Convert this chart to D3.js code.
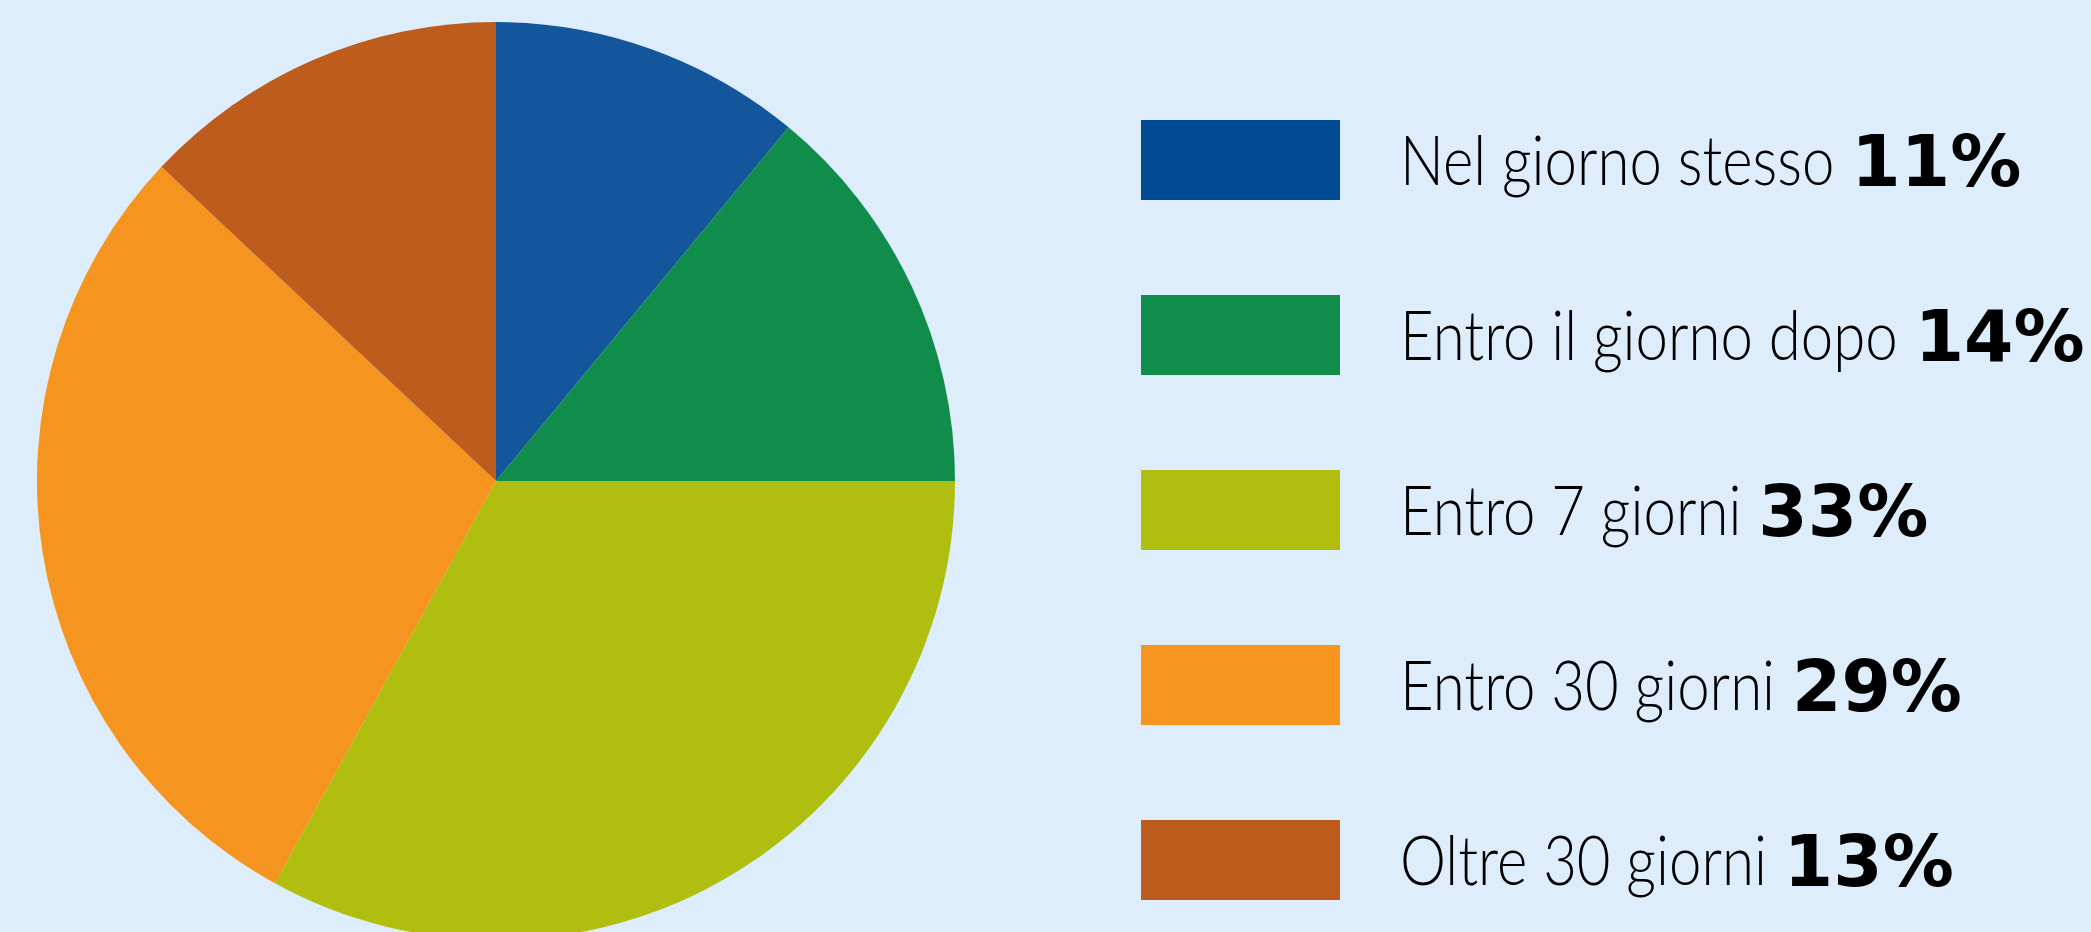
<!DOCTYPE html>
<html><head><meta charset="utf-8">
<script src="https://cdn.jsdelivr.net/npm/d3@7"></script>
<style>html,body{margin:0;padding:0;background:#deedfc;overflow:hidden}</style>
</head><body>
<svg id="c" width="2091" height="932"></svg>
<script>
const categories = ["Nel giorno stesso","Entro il giorno dopo","Entro 7 giorni","Entro 30 giorni","Oltre 30 giorni"];
const values = [11,14,33,29,13];
const pieColors = ["#13569b","#108d4a","#b0be0f","#f69420","#be5c1e"];
const legendColors = ["#004a93","#108d4a","#b0be0f","#f69420","#be5c1e"];

const svg = d3.select("#c");
svg.append("rect").attr("width",2091).attr("height",932).attr("fill","#deedfc");

const cx = 496, cy = 481, r = 459;
const pie = d3.pie().sort(null).value(d=>d)(values);
const arc = d3.arc().innerRadius(0).outerRadius(r);
svg.append("g").attr("transform",`translate(${cx},${cy})`)
  .selectAll("path").data(pie).join("path")
  .attr("d",arc).attr("fill",(d,i)=>pieColors[i]);

const y = d3.scaleBand().domain(categories).range([120,900]).paddingInner(0.5429).paddingOuter(0);
const bw = y.bandwidth();
const rows = svg.append("g").selectAll("g").data(categories).join("g")
  .attr("transform",d=>`translate(0,${y(d)})`);
rows.append("rect").attr("x",1141).attr("y",0).attr("width",199).attr("height",bw).attr("fill",(d,i)=>legendColors[i]);

const labelScale = 0.855, textX = 1400, gap = 17;
rows.each(function(d,i){
  const g = d3.select(this);
  const base = bw/2 + 25;
  const lab = g.append("text")
    .attr("transform",`translate(${textX},${base}) scale(${labelScale},1)`)
    .style("font-family","Lato").style("font-weight",300).style("font-size","68px")
    .attr("fill","#000").text(d);
  const w = lab.node().getComputedTextLength()*labelScale;
  g.append("text").attr("x",textX + w + gap).attr("y",base+1)
    .style("font-family","DejaVu Sans").style("font-weight",700).style("font-size","71px")
    .attr("fill","#000").text(values[i]+"%");
});
</script>
</body></html>
